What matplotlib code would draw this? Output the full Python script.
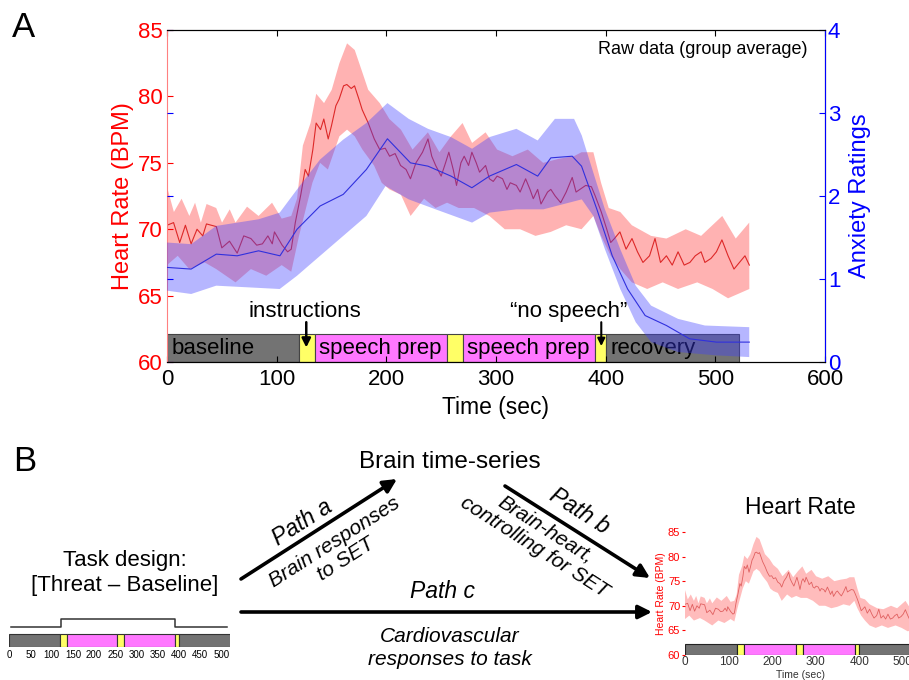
import numpy as np
import matplotlib
matplotlib.use('Agg')
import matplotlib.pyplot as plt

plt.rcParams['font.family'] = ['Liberation Sans', 'DejaVu Sans']

# heart rate, group mean (BPM)
hr_t = [0, 6, 11.6, 16.8, 22, 27.4, 32.6, 36, 45, 50,
        57, 64, 70, 76.5, 81.8, 87, 92, 96, 98, 105,
        110, 113.3, 117, 122, 126, 129, 133, 136, 140, 143,
        147, 150, 154, 157, 161, 164, 168, 171, 175, 178,
        183.5, 189, 194, 199, 203, 208, 213, 218, 222, 227,
        233, 238, 241.4, 245, 250, 254, 257, 261, 264, 268,
        271, 275, 278, 282, 285, 290.5, 294, 297.5, 301, 306,
        310, 313, 318.6, 322, 327, 331, 334, 338, 341, 347,
        350, 354, 359, 364, 369.5, 373, 376.5, 381.8, 387, 390.5,
        396, 401, 404.6, 408, 413, 418.6, 424, 429, 434, 440,
        445, 450, 455.4, 460.7, 466, 471.6, 476.8, 481.7, 487, 490.5,
        496, 501, 506, 511.6, 517, 522, 527, 531]
hr = [70.3, 70.5, 69.0, 70.3, 68.9, 70.0, 69.5, 70.4, 70.2, 68.6,
      69.1, 68.2, 69.5, 69.3, 68.8, 68.9, 69.5, 68.9, 69.8, 68.8,
      68.3, 68.5, 70.5, 72.6, 74.5, 74.0, 76.0, 78.0, 77.5, 78.3,
      76.8, 77.8, 79.3, 79.8, 80.8, 80.9, 80.6, 80.8, 79.8, 79.0,
      78.0, 76.8, 76.0, 76.1, 75.5, 75.7, 74.8, 74.5, 73.8, 75.0,
      75.8, 76.8, 75.5, 74.8, 74.0, 75.0, 75.8, 74.5, 73.3, 75.0,
      75.5, 74.8, 75.8, 75.0, 74.3, 74.8, 73.8, 73.6, 74.0, 73.8,
      73.0, 73.5, 73.3, 72.8, 73.8, 73.0, 72.3, 73.0, 71.9, 72.8,
      73.0, 72.5, 72.0, 72.8, 73.9, 72.8, 73.0, 73.3, 73.2, 72.5,
      71.3, 70.0, 69.0, 69.3, 69.8, 68.5, 69.3, 68.3, 67.5, 68.0,
      69.3, 67.5, 68.0, 67.3, 68.3, 67.3, 67.5, 68.0, 68.3, 67.5,
      67.8, 68.3, 69.2, 68.0, 67.0, 67.5, 68.0, 67.3]

# heart rate band, upper and lower edge
hr_hi_t = [0, 6.3, 13.3, 20.4, 25.6, 30.9, 36.1, 44.9, 50.2, 57.2,
           62.5, 73, 83.5, 95.8, 104.6, 113.3, 118.6, 123.9, 130.9, 136.1,
           143.2, 150.2, 157.2, 164.2, 171.2, 178.2, 183.5, 194, 202.8, 213.3,
           223.9, 237.9, 248.4, 259, 269.5, 278.2, 290.5, 301, 315, 329,
           343, 357, 371, 378, 388.8, 395.8, 402.8, 413.3, 423.9, 441.4,
           455.4, 473, 487, 506.3, 518.6, 530.9]
hr_hi = [73.2, 71.3, 72.3, 71.0, 72.0, 70.5, 71.9, 71.6, 70.5, 71.5,
         70.5, 71.7, 71.0, 72.0, 70.8, 71.0, 72.3, 76.3, 78.0, 80.2,
         79.5, 80.5, 82.5, 84.0, 83.5, 81.8, 80.5, 79.5, 78.3, 77.5,
         76.0, 77.3, 75.8, 77.0, 78.0, 76.5, 77.3, 76.0, 75.5, 76.0,
         75.0, 75.3, 75.5, 75.8, 75.8, 73.5, 71.6, 71.3, 70.3, 69.5,
         69.3, 70.0, 69.5, 71.0, 69.3, 70.5]
hr_lo_t = [0, 9.8, 20.4, 34.4, 44.9, 62.5, 76.5, 90.5, 104.6, 113.3,
           120.4, 127.4, 132.6, 139.6, 146.7, 157.2, 164.2, 171.2, 178.2, 188.8,
           195.8, 202.8, 213.3, 222.1, 234.4, 244.9, 255.4, 266, 280, 294,
           308, 322, 336, 350, 364, 378, 388.8, 395.8, 404.6, 413.3,
           423.9, 437.9, 452, 466, 483.5, 497.5, 511.6, 531]
hr_lo = [67.3, 68.0, 67.0, 67.5, 67.0, 66.0, 67.0, 66.5, 67.3, 66.8,
         69.5, 71.8, 73.5, 75.0, 74.5, 77.0, 77.5, 77.0, 76.0, 74.8,
         73.5, 73.0, 72.6, 71.0, 72.3, 71.6, 72.0, 71.6, 71.6, 71.0,
         70.0, 70.0, 69.5, 69.8, 70.3, 70.0, 71.0, 69.5, 68.0, 67.0,
         66.0, 65.5, 66.0, 65.5, 66.0, 65.5, 64.8, 65.5]

# anxiety ratings, mean and band
anx_t = [0, 22, 45, 64, 83.5, 103, 118.6, 139.6, 160.7, 181.8,
         201, 222, 238, 259, 278, 294, 318.6, 338, 350, 369.5,
         378, 392, 406, 420, 436, 455.4, 476.5, 501, 531]
anx = [1.14, 1.12, 1.30, 1.28, 1.34, 1.28, 1.60, 1.88, 2.02, 2.32,
       2.69, 2.40, 2.36, 2.24, 2.10, 2.24, 2.38, 2.24, 2.46, 2.48,
       2.36, 1.84, 1.28, 0.88, 0.56, 0.44, 0.28, 0.24, 0.24]
anx_hi_t = [0, 22.1, 44.9, 64.2, 83.5, 102.8, 118.6, 139.6, 160.7, 181.8,
            201, 220.4, 238, 259, 278.2, 294, 318.6, 338, 353.7, 371.2,
            378.2, 388.8, 399.3, 413.3, 427.4, 441.4, 466, 490.5, 530.9]
anx_hi = [1.44, 1.42, 1.64, 1.68, 1.72, 1.80, 2.08, 2.44, 2.68, 2.88,
          3.12, 2.93, 2.81, 2.71, 2.57, 2.71, 2.81, 2.67, 2.93, 2.93,
          2.73, 2.28, 1.84, 1.36, 0.92, 0.68, 0.52, 0.44, 0.42]
anx_lo_t = [0, 22.1, 44.9, 102.8, 118.6, 132.6, 157.2, 181.8, 199.3, 220.4,
            244.9, 278.2, 294, 318.6, 343.2, 378.2, 388.8, 399.3, 413.3, 427.4,
            441.4, 466, 501, 530.9]
anx_lo = [0.86, 0.82, 0.92, 0.88, 1.04, 1.20, 1.48, 1.76, 2.12, 1.96,
          1.84, 1.68, 1.80, 1.84, 1.84, 1.96, 1.76, 1.36, 0.88, 0.48,
          0.24, 0.12, 0.08, 0.06]

# task phases
phase_start = [0, 120, 135, 255, 270, 390, 400]
phase_end = [120, 135, 255, 270, 390, 400, 522]
phase_color = ['#737373', '#ffff66', '#ff77ff', '#ffff66', '#ff77ff', '#ffff66', '#737373']
phase_label = ['baseline', '', 'speech prep', '', 'speech prep', '', 'recovery']

# threat - baseline regressor
design_t = [5, 121, 121, 391, 391, 513]
design_on = [0, 0, 1, 1, 0, 0]

RED_BAND = '#ff4040'
BLUE_BAND = '#4040ff'
widths = np.subtract(phase_end, phase_start)

fig = plt.figure(figsize=(9.09, 6.80), dpi=100)

# ---------------- panel A ----------------
ax = fig.add_axes([0.1837, 0.4676, 0.7239, 0.4882])
ax.fill(np.r_[hr_hi_t, hr_lo_t[::-1]], np.r_[hr_hi, hr_lo[::-1]],
        color=RED_BAND, alpha=0.4, lw=0)
ax.plot(hr_t, hr, color='#dd2828', lw=0.8)
ax.barh(61.05, widths, left=phase_start, height=2.1, color=phase_color,
        edgecolor='#444444', lw=0.8)
for s, lab in zip(phase_start, phase_label):
    if lab:
        ax.text(s + 4, 61.05, lab, fontsize=16, va='center', ha='left')

ax.text(126, 63.0, 'instructions', fontsize=16, ha='center', va='bottom')
ax.annotate('', xy=(127, 61.1), xytext=(127, 63.0),
            arrowprops=dict(arrowstyle='-|>', color='black', lw=1.8,
                            mutation_scale=13, shrinkA=0, shrinkB=0))
ax.text(366, 63.0, '\u201cno speech\u201d', fontsize=16, ha='center', va='bottom')
ax.annotate('', xy=(396, 61.2), xytext=(396, 63.0),
            arrowprops=dict(arrowstyle='-|>', color='black', lw=1.5,
                            mutation_scale=11, shrinkA=0, shrinkB=0))
ax.text(584, 83.5, 'Raw data (group average)', fontsize=13, ha='right', va='center')

ax.set_xlim(0, 600)
ax.set_ylim(60, 85)
ax.set_yticks([60, 65, 70, 75, 80, 85])
ax.set_xticks([0, 100, 200, 300, 400, 500, 600])
ax.tick_params(axis='y', colors='red', direction='in', labelsize=16, length=4, pad=3)
ax.tick_params(axis='x', direction='in', top=True, labelsize=16, length=4, pad=5)
ax.set_xlabel('Time (sec)', fontsize=16.5, labelpad=4)
ax.set_ylabel('Heart Rate (BPM)', color='red', fontsize=17, labelpad=3)
ax.spines['left'].set_color('#ff8080')

ax2 = ax.twinx()
ax2.fill(np.r_[anx_hi_t, anx_lo_t[::-1]], np.r_[anx_hi, anx_lo[::-1]],
         color=BLUE_BAND, alpha=0.38, lw=0)
ax2.plot(anx_t, anx, color='#3030dd', lw=0.8)
ax2.set_ylim(0, 4)
ax2.set_yticks([0, 1, 2, 3, 4])
ax2.yaxis.set_ticks_position('both')
ax2.tick_params(axis='y', colors='blue', direction='in', labelsize=16, length=4,
                pad=2, labelleft=False, labelright=True)
ax2.spines['right'].set_color('blue')
ax2.spines['left'].set_visible(False)
ax2.set_ylabel('Anxiety Ratings', color='blue', fontsize=17, labelpad=6)

# ---------------- panel B: small heart rate plot ----------------
axh = fig.add_axes([0.7536, 0.0368, 0.2539, 0.1809])
axh.fill(np.r_[hr_hi_t, hr_lo_t[::-1]], np.r_[hr_hi, hr_lo[::-1]],
         color=RED_BAND, alpha=0.35, lw=0)
axh.plot(hr_t, hr, color='#e06060', lw=0.6)
axh.barh(61.1, widths, left=phase_start, height=2.2, color=phase_color,
         edgecolor='#222222', lw=0.8)
axh.set_xlim(0, 530)
axh.set_ylim(60, 85)
axh.set_yticks([60, 65, 70, 75, 80, 85])
axh.set_xticks([0, 100, 200, 300, 400, 500])
for sp in axh.spines.values():
    sp.set_visible(False)
axh.tick_params(axis='y', colors='red', labelsize=8, length=2, pad=1.5)
axh.tick_params(axis='x', colors='#333333', labelsize=8.5, length=0, pad=1)
axh.set_ylabel('Heart Rate (BPM)', color='red', fontsize=7.5, labelpad=1)
axh.set_xlabel('Time (sec)', fontsize=7.5, color='#333333', labelpad=1)
axh.set_title('Heart Rate', fontsize=16.5, pad=13)

# ---------------- panel B: task design ----------------
axd = fig.add_axes([0.01023, 0.0485, 0.2426, 0.047])
axd.barh(0.5, widths, left=phase_start, height=1.0, color=phase_color,
         edgecolor='#333333', lw=0.8)
axd.plot(design_t, 1.54 + 0.61 * np.array(design_on), color='#333333', lw=1.1)
axd.set_xlim(0, 520)
axd.set_ylim(0, 2.46)
axd.set_xticks(range(0, 501, 50))
axd.set_yticks([])
for sp in axd.spines.values():
    sp.set_visible(False)
axd.tick_params(axis='x', labelsize=7, length=0, pad=2)

# ---------------- overlay: panel letters, path diagram ----------------
ov = fig.add_axes([0, 0, 1, 1])
ov.set_xlim(0, 909)
ov.set_ylim(680, 0)
ov.axis('off')

ov.text(12, 37, 'A', fontsize=25, ha='left', va='baseline')
ov.text(13, 471, 'B', fontsize=25, ha='left', va='baseline')
ov.text(450, 462, 'Brain time-series', fontsize=17.5, ha='center', va='center')
ov.text(125, 573, 'Task design:\n[Threat \u2013 Baseline]', fontsize=16,
        ha='center', va='center', linespacing=1.25)

arrow = dict(arrowstyle='-|>', color='black', lw=2.6, mutation_scale=20,
             shrinkA=0, shrinkB=0)
ov.annotate('', xy=(397, 479), xytext=(241, 579), arrowprops=arrow)
ov.annotate('', xy=(650, 578), xytext=(505, 486), arrowprops=arrow)
ov.annotate('', xy=(652, 612), xytext=(241, 612), arrowprops=arrow)

ov.text(302, 523, 'Path a', fontsize=16.5, style='italic', rotation=32.6,
        ha='center', va='center', rotation_mode='anchor')
ov.text(340, 551, 'Brain responses\nto SET', fontsize=15, style='italic',
        rotation=32.6, ha='center', va='center', rotation_mode='anchor',
        multialignment='center', linespacing=1.1)
ov.text(579, 511, 'Path b', fontsize=16.5, style='italic', rotation=-32.5,
        ha='center', va='center', rotation_mode='anchor')
ov.text(540, 538, 'Brain-heart,\ncontrolling for SET', fontsize=15, style='italic',
        rotation=-32.5, ha='center', va='center', rotation_mode='anchor',
        multialignment='center', linespacing=1.1)
ov.text(443, 592, 'Path c', fontsize=16.5, style='italic', ha='center', va='center')
ov.text(450, 648, 'Cardiovascular\nresponses to task', fontsize=15, style='italic',
        ha='center', va='center', linespacing=1.25)

fig.savefig('out.png', dpi=100)
